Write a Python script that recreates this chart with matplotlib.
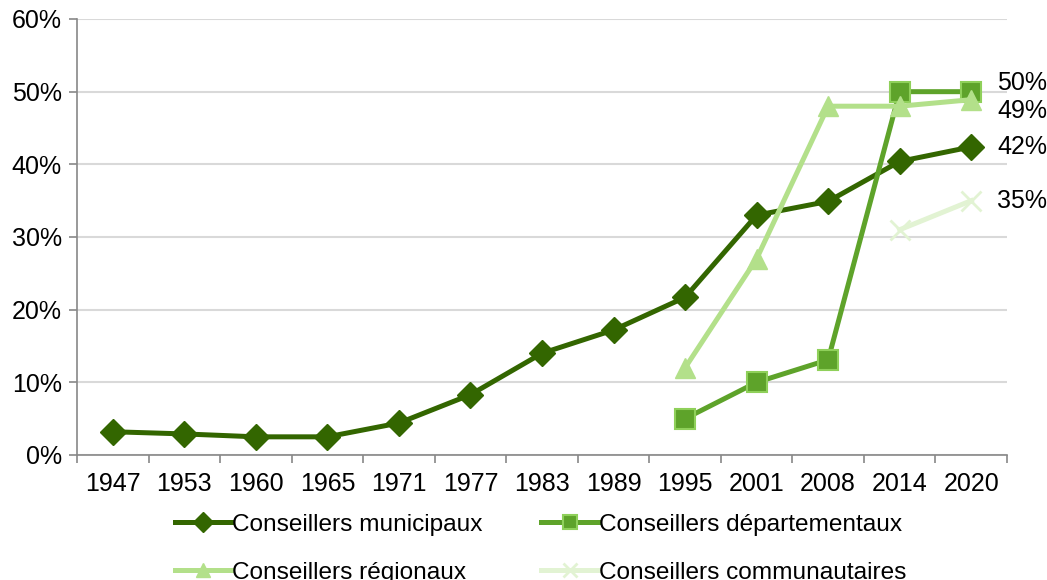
import numpy as np
import matplotlib.pyplot as plt

plt.rcParams['font.family'] = ['Liberation Sans', 'DejaVu Sans']

years = ["1947", "1953", "1960", "1965", "1971", "1977", "1983", "1989",
         "1995", "2001", "2008", "2014", "2020"]
municipaux = [3.2, 2.9, 2.5, 2.5, 4.4, 8.3, 14.0, 17.2, 21.7, 33.0, 34.9, 40.4, 42.4]
departementaux = [None] * 8 + [5.0, 10.0, 13.1, 50.0, 50.0]
regionaux = [None] * 8 + [12.0, 27.0, 48.0, 48.0, 48.9]
communautaires = [None] * 11 + [31.0, 35.0]
end_labels = ["50%", "49%", "42%", "35%"]

def arr(v):
    return np.array([np.nan if a is None else a for a in v], dtype=float)

x = np.arange(len(years))

fig = plt.figure(figsize=(10.47, 5.80), dpi=100)
ax = fig.add_axes([77 / 1047, 1 - 455 / 580, (1007 - 77) / 1047, (455 - 19) / 580])

c_mun = "#336600"
c_dep = "#5ea32a"
c_reg = "#b3e08a"
c_com = "#e2f3d3"

l1, = ax.plot(x, arr(municipaux), color=c_mun, lw=3.6, marker="D", ms=13,
              label="Conseillers municipaux")
l2, = ax.plot(x, arr(departementaux), color=c_dep, lw=3.6, marker="s", ms=14,
              mec="#8fd05a", mew=1.5, label="Conseillers départementaux")
l3, = ax.plot(x, arr(regionaux), color=c_reg, lw=3.6, marker="^", ms=14,
              label="Conseillers régionaux")
l4, = ax.plot(x, arr(communautaires), color=c_com, lw=3.6, marker="x", ms=14,
              mew=2, label="Conseillers communautaires")

# value labels at the right end
ends = [(departementaux[-1], 1.2), (regionaux[-1], -1.5), (municipaux[-1], 0), (communautaires[-1], 0)]
for (v, off), txt in zip(ends, end_labels):
    ax.text(len(years) - 1 + 0.36, v + off, txt, fontsize=18, va="center", ha="left",
            clip_on=False)

ax.set_xlim(-0.5, len(years) - 0.5)
ax.set_ylim(0, 60)
ax.set_yticks(np.arange(0, 61, 10))
ax.set_yticklabels([f"{v}%" for v in range(0, 61, 10)])
ax.set_xticks(x)
ax.set_xticklabels(years)
ax.set_xticks(np.arange(-0.5, len(years), 1), minor=True)
ax.tick_params(axis="x", which="major", length=0, labelsize=18, pad=12)
ax.tick_params(axis="x", which="minor", length=6, color="#888888", width=1.2)
ax.tick_params(axis="y", length=6, color="#888888", width=1.2, labelsize=18, pad=5)
ax.grid(axis="y", color="#d9d9d9", lw=1.5)
ax.set_axisbelow(True)
for s in ["top", "right"]:
    ax.spines[s].set_visible(False)
for s in ["left", "bottom"]:
    ax.spines[s].set_color("#888888")
    ax.spines[s].set_linewidth(1.2)

fig.legend(handles=[l1, l3, l2, l4], ncol=2, frameon=False, fontsize=17.6,
           loc="upper left", bbox_to_anchor=(165 / 1047, 1 - 504 / 580),
           handlelength=2.3, handletextpad=0.05, columnspacing=2.4,
           labelspacing=1.05, borderaxespad=0, markerscale=0.75)

fig.savefig("out.png", dpi=100)
